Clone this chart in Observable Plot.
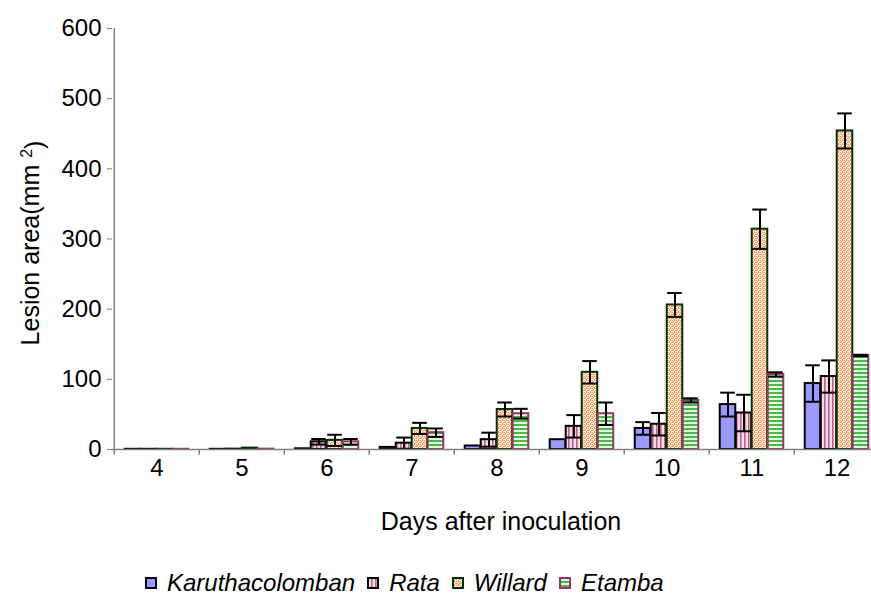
<!DOCTYPE html>
<html>
<head>
<meta charset="utf-8">
<script src="https://cdn.jsdelivr.net/npm/d3@7"></script>
<script src="https://cdn.jsdelivr.net/npm/@observablehq/plot@0.6"></script>
<style>
  html, body { margin: 0; padding: 0; background: #fff; overflow: hidden; width: 871px; height: 595px; }
  #wrap { position: relative; width: 871px; height: 595px; overflow: hidden; font-family: "Liberation Sans", Arial, sans-serif; }
  #chart svg { position: absolute; left: 0; top: 0; max-width: none !important; width: 881px; height: 545px; }
  #legend { position: absolute; left: 145px; top: 570px; height: 26px; display: flex; align-items: center;
            font-style: italic; font-size: 24px; color: #000; white-space: nowrap; }
  #legend .item { display: flex; align-items: center; margin-right: 12px; }
  #legend svg { margin-right: 10px; }
</style>
</head>
<body>
<div id="wrap"><div id="chart"></div><div id="legend"></div></div>
<script>
// ---------------- data ----------------
const days = [4, 5, 6, 7, 8, 9, 10, 11, 12];
const cultivars = ["Karuthacolomban", "Rata", "Willard", "Etamba"];
const karuth    = [0.3, 0.3, 1, 3, 5, 14, 30, 64, 94];
const karuthErr = [0, 0, 0, 0, 0, 0, 9, 17, 26];
const rata      = [0.3, 0.5, 11, 9, 14, 33, 36, 52, 104];
const rataErr   = [0, 0, 4, 8, 10, 16, 16, 26, 23];
const willard   = [0.3, 2, 13, 30, 57, 110, 206, 314, 454];
const willardErr= [0, 0, 8, 8, 10, 16, 17, 28, 25];
const etamba    = [0.3, 0.5, 11, 24, 51, 51, 70, 107, 134];
const etambaErr = [0, 0, 4, 6, 7, 16, 3, 3, 1];
const yTicks = [0, 100, 200, 300, 400, 500, 600];
const yLabel = "Lesion area(mm ";
const xLabel = "Days after inoculation";

// ---------------- build table ----------------
const seriesVals = [karuth, rata, willard, etamba];
const seriesErr = [karuthErr, rataErr, willardErr, etambaErr];
const rows = [];
cultivars.forEach((c, i) => days.forEach((d, j) => rows.push({
  day: d, cultivar: c, value: seriesVals[i][j], err: seriesErr[i][j]
})));

// ---------------- layout ----------------
const W = 881, H = 545, ML = 112, MT = 28, MB = H - 449, MR = 0;
const step = (W - ML - MR) / days.length;
const barW = 16;
const pad = (step - barW * cultivars.length) / 2;
const fills = ["#9999ff", "url(#pRata)", "url(#pWillard)", "url(#pEtamba)"];
const strokes = ["#000000", "#000000", "#003300", "#993366"];

const marks = [];
cultivars.forEach((c, i) => {
  const left = pad + i * barW;
  const right = step - left - barW;
  marks.push(Plot.barY(rows.filter(r => r.cultivar === c), {
    x: "day", y: "value", fill: fills[i], stroke: strokes[i], strokeWidth: 2,
    insetLeft: left, insetRight: right
  }));
});
cultivars.forEach((c, i) => {
  const left = pad + i * barW;
  const right = step - left - barW;
  const center = left + barW / 2 - step / 2;
  const er = rows.filter(r => r.cultivar === c && r.err > 0);
  marks.push(Plot.ruleX(er, {x: "day", y1: r => r.value - r.err, y2: r => r.value + r.err,
    dx: center, stroke: "#000", strokeWidth: 2}));
  marks.push(Plot.tickY(er, {x: "day", y: r => r.value + r.err, insetLeft: left + 0.5, insetRight: right + 0.5,
    stroke: "#000", strokeWidth: 2}));
  marks.push(Plot.tickY(er, {x: "day", y: r => r.value - r.err, insetLeft: left + 0.5, insetRight: right + 0.5,
    stroke: "#000", strokeWidth: 2}));
});
// axes
marks.push(Plot.ruleY([0], {stroke: "#808080", strokeWidth: 1.5}));
marks.push(Plot.ruleX([days[0]], {x: d => d, y1: 0, y2: 600, dx: -step / 2, stroke: "#808080", strokeWidth: 1.5}));
marks.push(Plot.ruleX(days, {x: d => d, y1: 0, y2: -8, dx: -step / 2, stroke: "#808080", strokeWidth: 1.5}));
marks.push(Plot.axisX({tickSize: 0, tickPadding: 9, label: null, fill: "#000"}));
marks.push(Plot.axisY({ticks: yTicks, tickSize: 5, tickPadding: 6, label: null, stroke: "#808080", fill: "#000"}));

const chart = Plot.plot({
  width: W, height: H,
  marginLeft: ML, marginRight: MR, marginTop: MT, marginBottom: MB,
  style: {fontFamily: "'Liberation Sans', Arial, sans-serif", fontSize: "24px", background: "#fff", overflow: "visible", maxWidth: "none"},
  x: {type: "band", domain: days, padding: 0, axis: null},
  y: {domain: [0, 600], axis: null},
  marks
});

// patterns
const svg = d3.select(chart);
svg.style("max-width", "none").attr("width", W).attr("height", H);
const defs = svg.insert("defs", ":first-child");
const pr = defs.append("pattern").attr("id", "pRata").attr("patternUnits", "userSpaceOnUse").attr("width", 4).attr("height", 4);
pr.append("rect").attr("width", 4).attr("height", 4).attr("fill", "#f6dbe8");
pr.append("rect").attr("x", 0).attr("width", 1.6).attr("height", 4).attr("fill", "#c0608e");
const pw = defs.append("pattern").attr("id", "pWillard").attr("patternUnits", "userSpaceOnUse").attr("width", 4).attr("height", 4);
pw.append("rect").attr("width", 4).attr("height", 4).attr("fill", "#fff2e6");
[[0,0],[2,0],[1,1],[3,2],[0,2],[2,3]].forEach(([x, y]) =>
  pw.append("rect").attr("x", x).attr("y", y).attr("width", 1).attr("height", 1).attr("fill", "#ff8c4d"));
[[1,2],[3,0]].forEach(([x, y]) =>
  pw.append("rect").attr("x", x).attr("y", y).attr("width", 1).attr("height", 1).attr("fill", "#ffc49e"));
const pe = defs.append("pattern").attr("id", "pEtamba").attr("patternUnits", "userSpaceOnUse").attr("width", 4).attr("height", 4);
pe.append("rect").attr("width", 4).attr("height", 4).attr("fill", "#e6f7e6");
pe.append("rect").attr("y", 0).attr("width", 4).attr("height", 2).attr("fill", "#44bb44");

// axis titles
const yl = svg.append("text").attr("transform", "translate(30,243) rotate(-90)")
  .attr("text-anchor", "middle").attr("dy", "0.35em").attr("font-size", 25).attr("fill", "#000");
yl.append("tspan").text(yLabel);
yl.append("tspan").attr("dy", "-0.45em").attr("font-size", 16).text("2");
yl.append("tspan").attr("dy", "0.45em").text(")");
svg.append("text").attr("x", 501).attr("y", 521).attr("text-anchor", "middle").attr("dy", "0.35em")
  .attr("font-size", 25).attr("fill", "#000").text(xLabel);

document.getElementById("chart").appendChild(chart);

// legend
const legend = d3.select("#legend");
cultivars.forEach((c, i) => {
  const it = legend.append("div").attr("class", "item");
  const s = it.append("svg").attr("width", 12).attr("height", 12);
  s.append("rect").attr("x", 1).attr("y", 1).attr("width", 10).attr("height", 10)
    .attr("fill", fills[i]).attr("stroke", strokes[i]).attr("stroke-width", 2);
  it.append("span").text(c);
});
</script>
</body>
</html>
